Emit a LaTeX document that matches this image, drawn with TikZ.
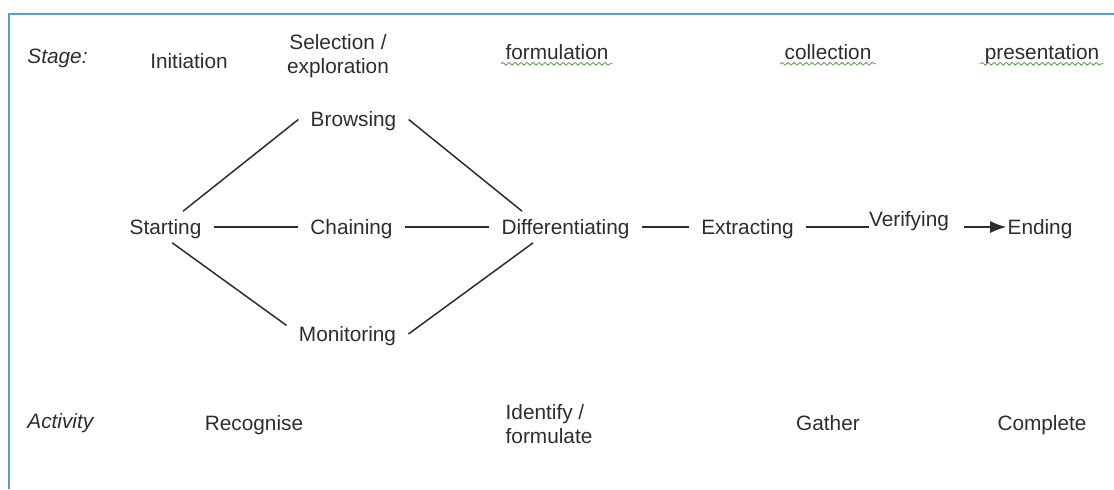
\documentclass[tikz,border=0pt]{standalone}
\usepackage{fontspec}
\setmainfont{Liberation Sans}
\usetikzlibrary{arrows.meta, positioning, decorations.pathmorphing}

\definecolor{frameblue}{RGB}{91,155,213}
\definecolor{spellgreen}{RGB}{86,160,70}
\definecolor{inkgray}{RGB}{45,45,45}

\begin{document}
\begin{tikzpicture}[
    x = 0.5pt, y = -0.5pt,
    every node/.style = {font=\fontsize{10.4}{12}\selectfont, text=inkgray},
    rowhead/.style = {anchor=west, inner sep=0pt, text height=7.4pt, text depth=0pt, font=\fontsize{10.4}{12}\selectfont\itshape},
    phase/.style = {inner sep=2pt, text height=7.4pt, text depth=0pt},
    twoline/.style = {inner sep=2pt, align=center},
    task/.style = {inner xsep=6pt, inner ysep=4pt, text height=7.4pt, text depth=0pt},
    line/.style = {draw=inkgray, line width=0.75pt},
    pointer/.style = {line, -{Latex[length=8pt, width=6pt]}},
    squiggle/.style = {draw=spellgreen, line width=0.4pt, decorate, decoration={snake, segment length=3pt, amplitude=0.7pt}},
    frame/.style = {draw=frameblue, line width=1pt}
]

    \useasboundingbox (0,0) rectangle (1114,489);
    \draw [frame] (9,489) -- (9,14) -- (1114,14);

    % Stage row
    \node [rowhead] (stage) at (27,56) {Stage:};
    \node [phase] (init) at (189,61) {Initiation};
    \node [twoline] (sel) at (338,56) {Selection /\\exploration};
    \node [phase] (form) at (557,52) {formulation};
    \node [phase] (coll) at (828,52) {collection};
    \node [phase] (pres) at (1042,52) {presentation};

    % spell-check marks
    \draw [squiggle] (form.south west) -- (form.south east);
    \draw [squiggle] (coll.south west) -- (coll.south east);
    \draw [squiggle] (pres.south west) -- (pres.south east);

    % Tasks
    \node [task] (start) at (165.5,227) {Starting};
    \node [task] (brow) at (353.5,119.5) {Browsing};
    \node [task] (chain) at (351.5,227) {Chaining};
    \node [task] (mon) at (347.5,334) {Monitoring};
    \node [task] (diff) at (565.5,227) {Differentiating};
    \node [task] (extr) at (747.5,227) {Extracting};
    \node [task, inner xsep=0pt] (verif) at (909,219.5) {Verifying};
    \node [task, inner xsep=0.5pt] (ending) at (1040,227) {Ending};

    % Connections
    \draw [line] (start.42) -- (brow.west);
    \draw [line] (brow.east) -- (diff.160);
    \draw [line] (start) -- (chain);
    \draw [line] (chain) -- (diff);
    \draw [line] (start.-67) -- (mon.172);
    \draw [line] (mon.east) -- (diff.206);
    \draw [line] (diff) -- (extr);
    \draw [line] (extr) -- (extr -| verif.west);
    \draw [pointer, shorten <=7.5pt] (verif.east |- ending.west) -- (ending.west);

    % Activity row
    \node [rowhead] (act) at (27,421) {Activity};
    \node [phase] (recog) at (254,423) {Recognise};
    \node [twoline, align=left] (ident) at (549,424) {Identify /\\formulate};
    \node [phase] (gath) at (828,423) {Gather};
    \node [phase] (compl) at (1042,423) {Complete};

\end{tikzpicture}
\end{document}
